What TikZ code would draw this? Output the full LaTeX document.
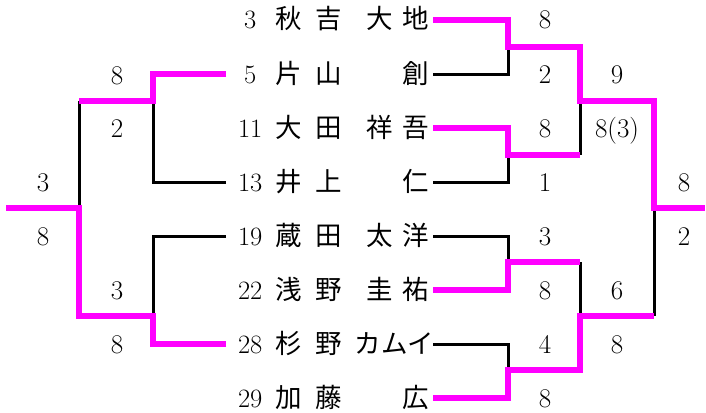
\documentclass[tikz,border=0pt]{standalone}
\usepackage{fontspec}
\newfontfamily\cjk{Noto Sans CJK JP}
\definecolor{win}{RGB}{255,0,255}
\newcommand\g[1]{\makebox[36pt]{\cjk #1}}
\newcommand\pl[4]{\makebox[24pt]{#1}\hspace{7pt}\makebox[40pt]{\cjk #2}\makebox[40pt]{\cjk #3}\hspace{13pt}\makebox[72pt][r]{\cjk #4}}
\begin{document}
\begin{tikzpicture}[x=1pt,y=-1pt,
  every node/.style={font=\fontsize{27}{32}\selectfont},
  player/.style={anchor=base west,inner sep=0pt,font=\fontsize{26.5}{32}\selectfont},
  score/.style={anchor=base,inner sep=0pt},
  lose/.style={line width=3pt,black},
  winl/.style={line width=6.6pt,win}]
\useasboundingbox (0,0) rectangle (706,412);
% players
\node[player] (p1) at (238,29) {\pl{3}{秋}{吉}{\g{大}\g{地}}};
\node[player] (p2) at (238,83) {\pl{5}{片}{山}{\g{創}}};
\node[player] (p3) at (238,137) {\pl{11}{大}{田}{\g{祥}\g{吾}}};
\node[player] (p4) at (238,191) {\pl{13}{井}{上}{\g{仁}}};
\node[player] (p5) at (238,245) {\pl{19}{蔵}{田}{\g{太}\g{洋}}};
\node[player] (p6) at (238,299) {\pl{22}{浅}{野}{\g{圭}\g{祐}}};
\node[player] (p7) at (238,353) {\pl{28}{杉}{野}{\cjk カムイ}};
\node[player] (p8) at (238,407) {\pl{29}{加}{藤}{\g{広}}};
% scores
\node[score] (sa) at (117,84) {8};
\node[score] (sb) at (117,137) {2};
\node[score] (sc) at (43,191) {3};
\node[score] (sd) at (43,245) {8};
\node[score] (se) at (117,299) {3};
\node[score] (sf) at (117,353) {8};
\node[score] (r1) at (545,29) {8};
\node[score] (r2) at (545,83) {2};
\node[score] (r3) at (545,137) {8};
\node[score] (r4) at (545,191) {1};
\node[score] (r5) at (545,245) {3};
\node[score] (r6) at (545,299) {8};
\node[score] (r7) at (545,353) {4};
\node[score] (r8) at (545,407) {8};
\node[score] (q1) at (617,83) {9};
\node[score] (q2) at (617,137) {8(3)};
\node[score] (q3) at (617,299) {6};
\node[score] (q4) at (617,353) {8};
\node[score] (f1) at (684,191) {8};
\node[score] (f2) at (684,245) {2};
% line ends
\coordinate (L2) at (226,74);
\coordinate (L4) at (226,182);
\coordinate (L5) at (226,236);
\coordinate (L7) at (226,344);
\coordinate (R1) at (433,20);
\coordinate (R2) at (433,74);
\coordinate (R3) at (433,128);
\coordinate (R4) at (433,182);
\coordinate (R5) at (433,236);
\coordinate (R6) at (433,290);
\coordinate (R7) at (433,344);
\coordinate (R8) at (433,398);
\coordinate (mL1) at (153,101);
\coordinate (mL2) at (153,316);
\coordinate (fL) at (79,208);
\coordinate (endL) at (6,208);
\coordinate (mR1) at (508,47);
\coordinate (mR2) at (508,155);
\coordinate (mR3) at (508,262);
\coordinate (mR4) at (508,370);
\coordinate (sR1) at (580,101);
\coordinate (sR2) at (580,316);
\coordinate (fR) at (654,208);
\coordinate (endR) at (705,208);
% losers
\draw[lose] (L4) -| (mL1);
\draw[lose] (L5) -| (mL2);
\draw[lose] (mL1 -| fL) -- (fL);
\draw[lose] (R2) -| (mR1);
\draw[lose] (R4) -| (mR2);
\draw[lose] (mR2 -| sR1) -- (sR1);
\draw[lose] (R5) -| (mR3);
\draw[lose] (R7) -| (mR4);
\draw[lose] (mR3 -| sR2) -- (sR2);
\draw[lose] (sR2 -| fR) -- (fR);
% winners
\draw[winl] (L2) -| (mL1) -- (mL1 -| fL);
\draw[winl] (L7) -| (mL2) -| (fL) -- (endL);
\draw[winl] (R1) -| (mR1) -| (sR1) -| (fR) -- (endR);
\draw[winl] (R3) -| (mR2) -- (mR2 -| sR1);
\draw[winl] (R6) -| (mR3) -- (mR3 -| sR2);
\draw[winl] (R8) -| (mR4) -| (sR2) -- (sR2 -| fR);
\end{tikzpicture}
\end{document}
